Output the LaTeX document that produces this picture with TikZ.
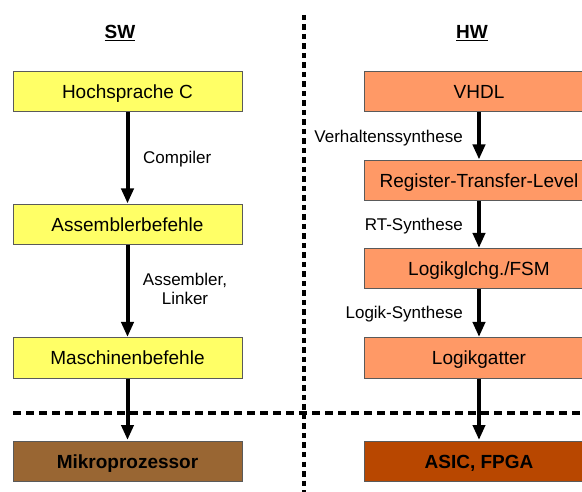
\documentclass[tikz,border=0pt]{standalone}
\usepackage{fontspec}
\setmainfont{Liberation Sans}
\usetikzlibrary{arrows.meta}
\definecolor{swyellow}{HTML}{FFFF66}
\definecolor{hwsalmon}{HTML}{FF9966}
\definecolor{mpbrown}{HTML}{996633}
\definecolor{asicbrown}{HTML}{B84700}
\definecolor{boxline}{HTML}{5A5A5A}
\tikzset{
  box/.style={draw=boxline, line width=1pt, minimum width=229pt, minimum height=40pt,
    inner sep=0pt, font=\fontsize{19}{22}\selectfont, text height=15pt, text depth=1pt},
  swbox/.style={box, fill=swyellow},
  hwbox/.style={box, fill=hwsalmon},
  lbl/.style={inner sep=0pt, font=\fontsize{17}{19}\selectfont},
  title/.style={inner sep=0pt, font=\fontsize{19}{22}\selectfont\bfseries},
  flow/.style={line width=4pt, -{Triangle[width=12pt,length=15pt]}, shorten >=0.5pt},
  sep/.style={line width=3.5pt}
}
\begin{document}
\begin{tikzpicture}[x=1pt,y=-1pt]
\useasboundingbox (0,0) rectangle (582,492);
\fill[white] (0,0) rectangle (582,492);
% separators
\coordinate (vtop) at (304,15);
\coordinate (vbot) at (304,492);
\coordinate (hl) at (13,413);
\coordinate (hr) at (582,413);
\draw[sep, dash pattern=on 5.5pt off 4pt] (vtop) -- (vbot);
\draw[sep, dash pattern=on 8pt off 5pt] (hl) -- (hr);
% titles
\node[title] (sw) at (120,33) {\underline{SW}};
\node[title] (hw) at (472,33) {\underline{HW}};
% SW column
\node[swbox] (hc) at (127.5,92) {Hochsprache C};
\node[swbox] (ab) at (127.5,224.5) {Assemblerbefehle};
\node[swbox] (mb) at (127.5,358) {Maschinenbefehle};
\node[box, fill=mpbrown] (mp) at (127.5,461) {\bfseries Mikroprozessor};
% HW column
\node[hwbox] (vhdl) at (479,92) {VHDL};
\node[hwbox] (rtl) at (479,180.5) {Register-Transfer-Level};
\node[hwbox] (lg) at (479,269) {Logikglchg./FSM};
\node[hwbox] (lgat) at (479,358) {Logikgatter};
\node[box, fill=asicbrown] (asic) at (479,461) {\bfseries ASIC, FPGA};
% arrows
\draw[flow] (hc) -- (ab);
\draw[flow] (ab) -- (mb);
\draw[flow] (mb) -- (mp);
\draw[flow] (vhdl) -- (rtl);
\draw[flow] (rtl) -- (lg);
\draw[flow] (lg) -- (lgat);
\draw[flow] (lgat) -- (asic);
% labels
\node[lbl, anchor=west] (l1) at (143,159) {Compiler};
\node[lbl, align=center, font=\fontsize{17}{18.5}\selectfont] (l2) at (185,289) {Assembler,\\Linker};
\node[lbl, anchor=east] (l3) at (463,138) {Verhaltenssynthese};
\node[lbl, anchor=east] (l4) at (463,226) {RT-Synthese};
\node[lbl, anchor=east] (l5) at (463,314) {Logik-Synthese};
\end{tikzpicture}
\end{document}
